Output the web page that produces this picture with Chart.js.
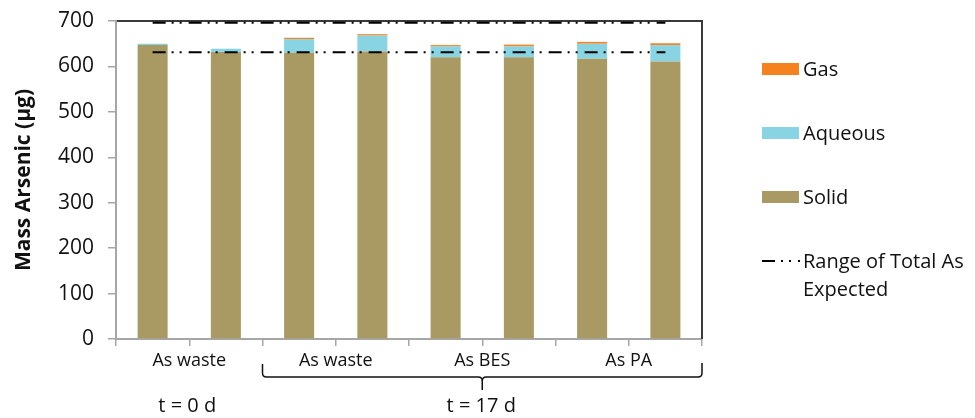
<!DOCTYPE html>
<html>
<head>
<meta charset="utf-8">
<script src="https://cdn.jsdelivr.net/npm/chart.js@4.4.1/dist/chart.umd.min.js"></script>
<style>
  html, body { margin: 0; padding: 0; background: #fff; }
  #wrap { width: 975px; height: 418px; }
</style>
</head>
<body>
<div id="wrap"><canvas id="c" width="975" height="418"></canvas></div>
<script>
// Two replicate bars per treatment
const bars = ['waste-0d-1', 'waste-0d-2', 'waste-17d-1', 'waste-17d-2', 'BES-17d-1', 'BES-17d-2', 'PA-17d-1', 'PA-17d-2'];
const groups = ['As waste', 'As waste', 'As BES', 'As PA'];
const times = ['t = 0 d', 't = 17 d'];

// Arsenic mass by phase (µg)
const solid   = [647, 632, 630, 633, 620, 620, 617, 611];
const aqueous = [3, 7, 30, 35, 24, 24, 33, 36];
const gas     = [0, 0, 3, 3, 3, 4, 4, 4];

// Expected total arsenic range (µg)
const rangeLow  = [631, 631, 631, 631, 631, 631, 631, 631];
const rangeHigh = [696, 696, 696, 696, 696, 696, 696, 696];

const yTicks = { min: 0, max: 700, step: 100 };

const FONT = "'Open Sans', 'Liberation Sans', sans-serif";
const TEXT = '#111';
const AXIS = '#a6a6a6';
const RANGE_DASH = [13, 6, 2, 6, 2, 7];

// Top/right frame of the plot area
const framePlugin = {
  id: 'frame',
  beforeDatasetsDraw(chart) {
    const { ctx, chartArea: a } = chart;
    ctx.save();
    ctx.strokeStyle = '#3a3a3a';
    ctx.lineWidth = 2;
    ctx.beginPath();
    ctx.moveTo(a.left + 1, a.top);
    ctx.lineTo(a.right, a.top);
    ctx.lineTo(a.right, a.bottom);
    ctx.stroke();
    ctx.restore();
  }
};

// Brace grouping the day-17 treatments, and the time labels
const bracePlugin = {
  id: 'brace',
  afterDraw(chart) {
    const { ctx } = chart;
    const x = chart.scales.x;
    const half = (x.getPixelForValue(1) - x.getPixelForValue(0)) / 2;
    const L = x.getPixelForValue(2) - half;
    const R = x.getPixelForValue(7) + half;
    const C = (L + R) / 2;
    const yb = 377, r = 4;
    ctx.save();
    ctx.strokeStyle = '#111';
    ctx.lineWidth = 1.5;
    ctx.beginPath();
    ctx.moveTo(L, 364);
    ctx.lineTo(L, yb - r);
    ctx.quadraticCurveTo(L, yb, L + r, yb);
    ctx.lineTo(C - r, yb);
    ctx.quadraticCurveTo(C, yb, C, yb + r);
    ctx.lineTo(C, 390);
    ctx.moveTo(C, yb + r);
    ctx.quadraticCurveTo(C, yb, C + r, yb);
    ctx.lineTo(R - r, yb);
    ctx.quadraticCurveTo(R, yb, R, yb - r);
    ctx.lineTo(R, 363);
    ctx.stroke();

    ctx.fillStyle = TEXT;
    ctx.font = `20px ${FONT}`;
    ctx.textAlign = 'center';
    ctx.textBaseline = 'middle';
    const x0 = (x.getPixelForValue(0) + x.getPixelForValue(1)) / 2;
    ctx.fillText(times[0], x0 - 2, 406);
    ctx.fillText(times[1], C - 1, 406);
    ctx.restore();
  }
};

// Legend on the right, one row per phase plus the expected range
const legendPlugin = {
  id: 'sideLegend',
  afterDraw(chart) {
    const { ctx, chartArea: a } = chart;
    const sets = chart.data.datasets;
    const barSets = sets.filter(d => d.type === 'bar').slice().reverse();
    const lineSet = sets.find(d => d.type === 'line');
    const bx = a.right + 60, bw = 37, bh = 12, tx = bx + 41;
    let y = 69;
    ctx.save();
    ctx.font = `20px ${FONT}`;
    ctx.fillStyle = TEXT;
    ctx.textBaseline = 'middle';
    ctx.textAlign = 'left';
    barSets.forEach(d => {
      ctx.fillStyle = d.backgroundColor;
      ctx.fillRect(bx, y - bh / 2, bw, bh);
      ctx.fillStyle = TEXT;
      ctx.fillText(d.label, tx, y + 1);
      y += 64;
    });
    // line sample
    ctx.strokeStyle = lineSet.borderColor;
    ctx.lineWidth = 2;
    ctx.setLineDash(lineSet.borderDash);
    ctx.beginPath();
    ctx.moveTo(bx, y);
    ctx.lineTo(bx + bw + 1, y);
    ctx.stroke();
    ctx.setLineDash([]);
    const words = lineSet.label.split(' ');
    const lines = [];
    let cur = '';
    words.forEach(w => {
      const t = cur ? cur + ' ' + w : w;
      if (ctx.measureText(t).width > 175 && cur) { lines.push(cur); cur = w; } else { cur = t; }
    });
    lines.push(cur);
    lines.forEach((l, i) => ctx.fillText(l, tx, y + 1 + i * 28));
    ctx.restore();
  }
};

new Chart(document.getElementById('c'), {
  data: {
    labels: bars,
    datasets: [
      { type: 'line', label: 'Range of Total As Expected', data: rangeLow, stack: 'low',
        borderColor: '#000', borderWidth: 2, borderDash: RANGE_DASH, pointRadius: 0, fill: false, order: -1 },
      { type: 'line', label: 'Range of Total As Expected', data: rangeHigh, stack: 'high',
        borderColor: '#000', borderWidth: 2, borderDash: RANGE_DASH, pointRadius: 0, fill: false, order: -1 },
      { type: 'bar', label: 'Solid', data: solid, stack: 'mass', backgroundColor: '#a99a63' },
      { type: 'bar', label: 'Aqueous', data: aqueous, stack: 'mass', backgroundColor: '#88d4e2' },
      { type: 'bar', label: 'Gas', data: gas, stack: 'mass', backgroundColor: '#f5821f' }
    ]
  },
  options: {
    responsive: false,
    animation: false,
    devicePixelRatio: 1,
    layout: { padding: { top: 21, right: 273, bottom: 42, left: 0 } },
    datasets: { bar: { barPercentage: 0.41, categoryPercentage: 1 } },
    plugins: { legend: { display: false }, tooltip: { enabled: false } },
    scales: {
      x: {
        type: 'category', stacked: true, offset: true, position: 'bottom', weight: 0,
        ticks: { display: false },
        grid: { display: true, drawOnChartArea: false, offset: true, tickLength: 7, color: AXIS, lineWidth: 1.5 },
        border: { color: AXIS, width: 2 },
        afterFit(s) { s.height = 7; }
      },
      x2: {
        type: 'category', labels: groups, offset: true, position: 'bottom', weight: 1,
        grid: { display: false, drawTicks: false },
        border: { display: false },
        ticks: { font: { family: FONT, size: 18 }, color: TEXT, padding: 4, maxRotation: 0, autoSkip: false },
        afterFit(s) { s.height = 30; }
      },
      y: {
        stacked: true, min: yTicks.min, max: yTicks.max,
        ticks: { stepSize: yTicks.step, font: { family: FONT, size: 21 }, color: TEXT, padding: 14 },
        grid: { drawOnChartArea: false, tickLength: 8, color: AXIS, lineWidth: 1.5 },
        border: { color: AXIS, width: 2 },
        title: { display: true, text: 'Mass Arsenic (µg)', color: TEXT,
                 font: { family: FONT, size: 21, weight: 'bold' }, padding: { top: 11, bottom: 0 } },
        afterFit(s) { s.width = 116; s.paddingTop = 0; s.paddingBottom = 0; }
      }
    }
  },
  plugins: [framePlugin, bracePlugin, legendPlugin]
});
</script>
</body>
</html>
